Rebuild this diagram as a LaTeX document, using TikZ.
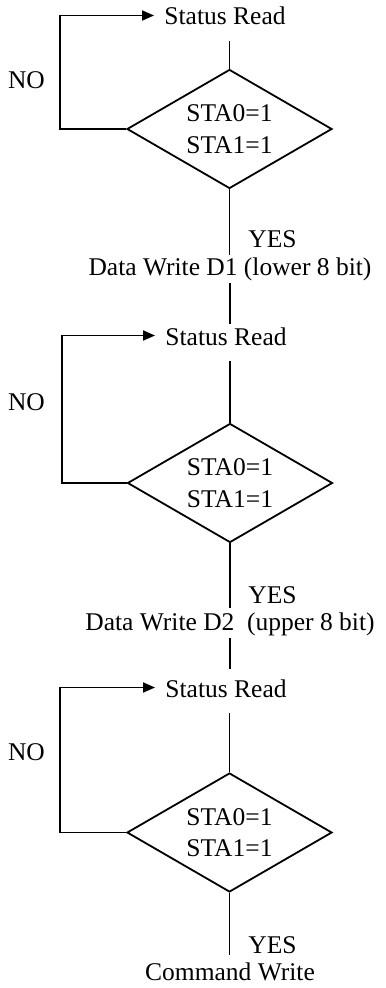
\documentclass[tikz,border=0pt]{standalone}
\usepackage{fontspec}
\setmainfont{Liberation Serif}
\usetikzlibrary{shapes.geometric,arrows.meta}
\tikzset{
  txt/.style={inner sep=0pt, anchor=base, font=\fontsize{12.75}{15.75}\selectfont},
  status/.style={txt, inner xsep=5pt, text height=9.5pt, text depth=0pt},
  action/.style={txt, text height=8.5pt, text depth=2.5pt},
  test/.style={draw, diamond, shape aspect=1.7, inner sep=0pt, line width=0.9pt,
    minimum width=102.5pt, minimum height=59.5pt, align=center,
    font=\fontsize{12.75}{15.75}\selectfont},
  flow/.style={line width=0.9pt},
}
\begin{document}
\begin{tikzpicture}[x=0.5pt, y=-0.5pt, >={Triangle[length=6pt,width=5pt]}]
  \useasboundingbox (0,0) rectangle (385,988);

  % block 1
  \node [status] (sr1) at (225,25) {Status Read};
  \node [test] (d1) at (229.5,129) {STA0=1\\STA1=1};
  \node [txt] (no1) at (26.5,89) {NO};
  \node [txt, anchor=base west] (yes1) at (248,248) {YES};
  \node [action] (wr1) at (230,276) {Data Write D1 (lower 8 bit)};
  \coordinate (c1) at (60,129);
  \draw [flow, shorten <=8pt] (d1.north |- sr1.south) -- (d1.north);
  \draw [flow, shorten >=2pt] (d1.south) -- (d1.south |- wr1.north);
  \draw [flow, ->] (d1.west) -- (d1.west -| c1) |- (sr1.west);

  % block 2
  \node [status] (sr2) at (226,345) {Status Read};
  \node [test] (d2) at (230,483) {STA0=1\\STA1=1};
  \node [txt] (no2) at (26.5,410) {NO};
  \node [txt, anchor=base west] (yes2) at (248,603) {YES};
  \node [action] (wr2) at (230,630) {Data Write D2\ \ (upper 8 bit)};
  \coordinate (c2) at (62,483);
  \draw [flow, shorten <=1pt, shorten >=1pt] (wr1.south) -- (wr1.south |- sr2.north);
  \draw [flow, shorten <=8pt] (d2.north |- sr2.south) -- (d2.north);
  \draw [flow, shorten >=2.5pt] (d2.south) -- (d2.south |- wr2.north);
  \draw [flow, ->] (d2.west) -- (d2.west -| c2) |- (sr2.west);

  % block 3
  \node [status] (sr3) at (226,697) {Status Read};
  \node [test] (d3) at (229.5,832.5) {STA0=1\\STA1=1};
  \node [txt] (no3) at (26.5,760) {NO};
  \node [txt, anchor=base west] (yes3) at (248,953) {YES};
  \node [action] (wr3) at (230,980) {Command Write};
  \coordinate (c3) at (60,833);
  \draw [flow, shorten <=1.5pt, shorten >=4.5pt] (wr2.south) -- (wr2.south |- sr3.north);
  \draw [flow, shorten <=8pt] (d3.north |- sr3.south) -- (d3.north);
  \draw [flow, shorten >=4pt] (d3.south) -- (d3.south |- wr3.north);
  \draw [flow, ->] (d3.west) -- (d3.west -| c3) |- (sr3.west);
\end{tikzpicture}
\end{document}
